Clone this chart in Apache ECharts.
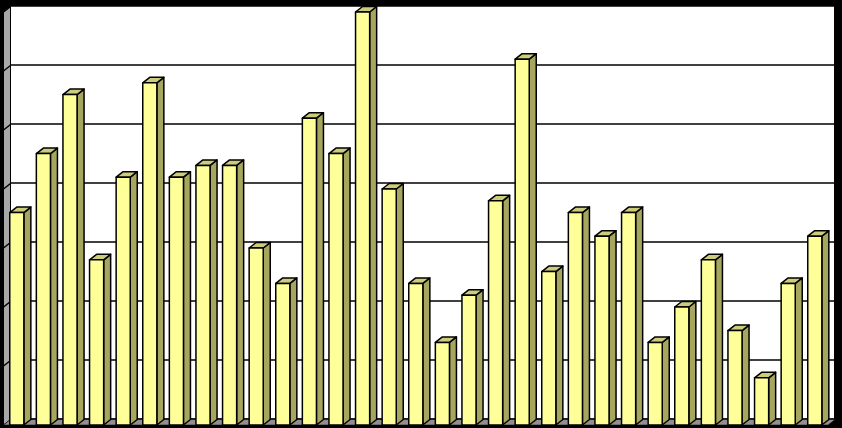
<!DOCTYPE html>
<html><head><meta charset="utf-8">
<style>html,body{margin:0;padding:0;background:#000}#c{width:842px;height:428px}</style>
<script src="https://cdn.jsdelivr.net/npm/echarts@6/dist/echarts.min.js"></script>
</head><body><div id="c"></div>
<script>
const categories = ['1','2','3','4','5','6','7','8','9','10','11','12','13','14','15','16','17','18','19','20','21','22','23','24','25','26','27','28','29','30','31'];
const values = [18,23,28,14,21,29,21,22,22,15,12,26,23,35,20,12,7,11,19,31,13,18,16,18,7,10,14,8,4,12,16];
const yTicks = [0,5,10,15,20,25,30,35];
const DX = 7, DY = -5.5;
const FRONT='#FFFF99', TOP='#CCCC7A', SIDE='#A6A65E', WALL='#A8A8A8', FLOOR='#909090', INK='#000';
const chart = echarts.init(document.getElementById('c'), null, {renderer:'canvas'});
const bandEdges = api => {
  const w = api.size([1,0])[0];
  return [api.coord([0,0])[0]-w/2, api.coord([categories.length-1,0])[0]+w/2];
};
const poly = (pts, fill, lw) => ({type:'polygon', shape:{points:pts},
  style:{fill, stroke:INK, lineWidth:lw===undefined?1.5:lw, lineJoin:'round'}});
chart.setOption({
  backgroundColor:'#000', animation:false, tooltip:{show:false},
  grid:[
    {left:3.5, top:12, width:824.6, height:413, show:false},
    {left:10.5, top:6, width:823.5, height:412.6, show:true, backgroundColor:'#fff', borderWidth:0, z:0}
  ],
  xAxis:[
    {type:'category', gridIndex:0, data:categories, show:false, boundaryGap:true},
    {type:'category', gridIndex:1, data:categories, show:false, boundaryGap:true}
  ],
  yAxis:[
    {type:'value', gridIndex:0, min:0, max:35, interval:5, show:false},
    {type:'value', gridIndex:1, min:0, max:35, interval:5, axisLabel:{show:false}, axisLine:{show:false}, axisTick:{show:false},
     splitLine:{show:true, lineStyle:{color:INK, width:1.5}}, z:1}
  ],
  series:[
    {type:'custom', xAxisIndex:0, yAxisIndex:0, z:3, silent:true, clip:false, data:yTicks.map(v=>[0,v]),
     renderItem(params, api){
       const [x0] = bandEdges(api);
       const v = api.value(1), y = api.coord([0,v])[1];
       const children = [];
       if(v===0){
         const top = api.coord([0,35])[1];
         children.push(poly([[x0,top],[x0+DX,top+DY],[x0+DX,y+DY],[x0,y]], WALL, 1));
       } else {
         children.push({type:'line', shape:{x1:x0,y1:y,x2:x0+DX,y2:y+DY}, style:{stroke:INK,lineWidth:1.5}});
       }
       return {type:'group', children};
     }},
    {type:'custom', xAxisIndex:0, yAxisIndex:0, z:4, silent:true, clip:false, data:[[0,0]],
     renderItem(params, api){
       const [x0,x1] = bandEdges(api);
       const y = api.coord([0,0])[1];
       return poly([[x0,y],[x1,y],[x1+DX,y+DY],[x0+DX,y+DY]], FLOOR, 0.5);
     }},
    {type:'custom', xAxisIndex:0, yAxisIndex:0, z:5, silent:true, clip:false,
     encode:{x:0,y:1}, data:categories.map((c,i)=>[i,values[i]]),
     renderItem(params, api){
       const i = api.value(0), v = api.value(1);
       const base = api.coord([i,0]), top = api.coord([i,v]);
       const w = api.size([1,0])[0]*0.53;
       const l = base[0]-w/2, r = base[0]+w/2, yb = base[1], yt = top[1];
       return {type:'group', children:[
         poly([[r,yb],[r+DX,yb+DY],[r+DX,yt+DY],[r,yt]], SIDE),
         poly([[l,yt],[l+DX,yt+DY],[r+DX,yt+DY],[r,yt]], TOP),
         poly([[l,yb],[r,yb],[r,yt],[l,yt]], FRONT)
       ]};
     }}
  ]
});
</script></body></html>
